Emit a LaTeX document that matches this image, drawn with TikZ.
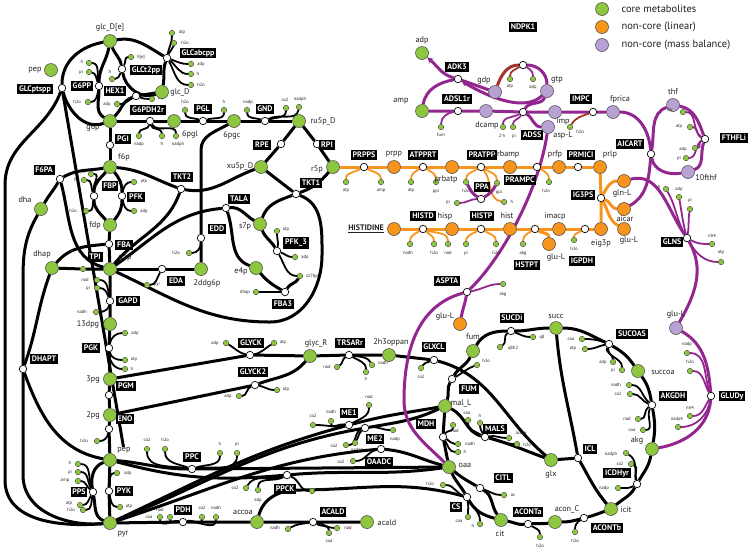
\documentclass[tikz,border=0pt]{standalone}
\usepackage{fontspec}
\setmainfont{PT Sans}
\usetikzlibrary{arrows.meta}
\pgfdeclarelayer{bg}
\pgfsetlayers{bg,main}
\definecolor{grn}{HTML}{8DC63F}
\definecolor{org}{HTML}{F7941D}
\definecolor{pur}{HTML}{93278F}
\definecolor{pfill}{HTML}{B8A2D4}
\definecolor{brn}{HTML}{A5332B}
\definecolor{txt}{HTML}{231F20}
\newcommand\Met[6]{\node[met] (#1) at (#2,#3) {}; \node[mt] (#1t) at (#4,#5) {#6};}
\newcommand\OMet[6]{\node[met,fill=org] (#1) at (#2,#3) {}; \node[mt] (#1t) at (#4,#5) {#6};}
\newcommand\PMet[6]{\node[met,fill=pfill] (#1) at (#2,#3) {}; \node[mt] (#1t) at (#4,#5) {#6};}
\newcommand\Rx[6]{\node[rx] (#1) at (#2,#3) {}; \node[lb] (#1b) at (#4,#5) {#6};}
\newcommand\Cf[8][]{\node[cf] (#2) at (#4,#5) {}; \node[ct] (#2t) at (#6,#7) {#8};
  \begin{pgfonlayer}{bg}\draw[cl,#1] (#3) to (#2);\end{pgfonlayer}}
\begin{document}
\begin{tikzpicture}[x=1pt,y=-1pt,
 met/.style={circle,fill=grn,draw=black!75,line width=0.5pt,minimum size=13pt,inner sep=0pt},
 cf/.style={circle,fill=grn,draw=black!75,line width=0.4pt,minimum size=5.5pt,inner sep=0pt},
 rx/.style={circle,fill=white,draw=black,line width=0.7pt,minimum size=7.5pt,inner sep=0pt},
 lb/.style={fill=black,text=white,font=\fontsize{8}{9}\selectfont\bfseries,inner sep=1.8pt},
 mt/.style={font=\fontsize{8.2}{9}\selectfont,inner sep=0pt,text=txt},
 ct/.style={font=\fontsize{4.6}{5}\selectfont,inner sep=0pt,text=txt},
 ml/.style={line width=3pt},
 cl/.style={line width=1.8pt},
 pl/.style={ml,draw=pur},
 ol/.style={ml,draw=org},
 cp/.style={draw=pur},
 co/.style={draw=org},
 cb/.style={draw=brn}]
\path[use as bounding box] (0,0) rectangle (749,550);
% legend
\node[met,minimum size=13pt] (lg1) at (602,9) {};
\node[anchor=west,font=\fontsize{10.5}{11}\selectfont,text=txt] (lg1t) at (618,9) {core metabolites};
\node[met,fill=org,minimum size=13pt] (lg2) at (602,27) {};
\node[anchor=west,font=\fontsize{10.5}{11}\selectfont,text=txt] (lg2t) at (618,27) {non-core (linear)};
\node[met,fill=pfill,minimum size=13pt] (lg3) at (602,45) {};
\node[anchor=west,font=\fontsize{10.5}{11}\selectfont,text=txt] (lg3t) at (618,45) {non-core (mass balance)};
% ---------------- top left
\Met{glce}{110}{41}{110}{28}{glc\_D[e]}
\Met{pept}{51}{70}{35}{70}{pep}
\Rx{glcpts}{62}{88}{35}{89}{GLCptspp}
\Rx{gsixpp}{99}{86}{82}{86}{G6PP}
\Cf[out=100,in=0]{gsixppa}{gsixpp}{89}{63}{82}{62}{h}
\Cf[out=110,in=-10]{gsixppb}{gsixpp}{89}{72}{81}{72}{pi}
\Cf[out=-100,in=0]{gsixppc}{gsixpp}{88}{102}{77}{102}{h2o}
\Rx{hexone}{136}{96}{115}{91}{HEX1}
\Cf[out=-150,in=0]{hexa}{hexone}{117}{104}{107}{104}{adp}
\Cf[out=-20,in=180]{hexb}{hexone}{152}{99}{161}{99}{atp}
\Rx{glct}{122}{69}{146}{70}{GLCt2pp}
\Cf[out=60,in=180]{glcta}{glct}{131}{57}{141}{57}{h[e]}
\Cf[out=-110,in=0]{glctb}{glct}{112}{79}{110}{72}{h}
\Rx{glcabc}{167}{58}{198}{53}{GLCabcpp}
\Cf[out=80,in=-90]{glcaa}{glcabc}{172}{33}{182}{33}{atp}
\Cf[out=70,in=-100]{glcab}{glcabc}{174}{43}{185}{43}{h2o}
\Cf[out=-20,in=180]{glcac}{glcabc}{191}{64}{201}{64}{adp}
\Cf[out=-40,in=180]{glcad}{glcabc}{191}{74}{198}{74}{h}
\Cf[out=-60,in=180]{glcae}{glcabc}{191}{85}{201}{85}{h2o}
\Met{glcd}{162}{92}{180}{92}{glc\_D}
\Met{gsixp}{110}{121}{93}{127}{g6p}
\Rx{gpdh}{150}{121}{148}{110}{G6PDH2r}
\Cf[out=-100,in=90]{gpdha}{gpdh}{139}{136}{139}{144}{nadp}
\Cf[out=-80,in=90]{gpdhb}{gpdh}{162}{136}{162}{144}{h}
\Cf[out=-60,in=90]{gpdhc}{gpdh}{176}{136}{178}{144}{nadph}
\Met{sixpgl}{174}{121}{190}{134}{6pgl}
\Rx{pgl}{203}{121}{203}{109}{PGL}
\Cf[out=160,in=-90]{pgla}{pgl}{185}{110}{185}{102}{h2o}
\Cf[out=20,in=-90]{pglb}{pgl}{224}{110}{224}{102}{h}
\Met{sixpgc}{234}{121}{232}{135}{6pgc}
\Rx{gnd}{265}{121}{265}{109}{GND}
\Cf[out=160,in=-90]{gnda}{gnd}{247}{110}{248}{102}{nadp}
\Cf[out=20,in=-90]{gndb}{gnd}{286}{108}{285}{100}{co2}
\Cf[out=30,in=-100]{gndc}{gnd}{299}{107}{300}{99}{nadph}
\Met{rufp}{299}{121}{323}{121}{ru5p\_D}
% ---------------- upper glycolysis / PPP
\Rx{pgi}{110}{145}{123}{139}{PGI}
\Met{fsixp}{110}{167}{124}{157}{f6p}
\Rx{fsixpa}{60}{179}{44}{170}{F6PA}
\Met{dha}{41}{209}{25}{200}{dha}
\Rx{fbp}{94}{196}{110}{186}{FBP}
\Cf[out=100,in=0]{fbpa}{fbp}{91}{174}{84}{172}{h}
\Cf[out=110,in=0]{fbpb}{fbp}{84}{180}{76}{179}{pi}
\Cf[out=-100,in=0]{fbpc}{fbp}{86}{211}{73}{211}{h2o}
\Rx{pfk}{122}{196}{136}{197}{PFK}
\Cf[out=80,in=180]{pfka}{pfk}{134}{182}{144}{182}{atp}
\Cf[out=-80,in=180]{pfkb}{pfk}{134}{211}{144}{211}{adp}
\Met{fdp}{110}{225}{95}{225}{fdp}
\Rx{fba}{109}{244}{124}{245}{FBA}
\Met{gthreep}{110}{269}{125}{257}{g3p}
\Met{dhap}{52}{268}{42}{254}{dhap}
\node[cf] (tpi) at (83,269) {};
\node[lb] (tpib) at (95,257) {TPI};
\Rx{tkttwo}{181}{189}{182}{177}{TKT2}
\Rx{tala}{226}{208}{239}{199}{TALA}
\Met{xufp}{261}{167}{240}{166}{xu5p\_D}
\Met{ssevp}{260}{224}{245}{226}{s7p}
\Rx{edd}{201}{238}{217}{229}{EDD}
\Cf[out=-90,in=0]{edda}{edd}{189}{253}{176}{253}{h2o}
\Rx{eda}{162}{269}{176}{281}{EDA}
\Cf[out=-120,in=0]{edaa}{eda}{147}{285}{157}{285}{pyr}
\Met{twoddg}{201}{269}{207}{283}{2ddg6p}
\Met{efourp}{256}{268}{241}{271}{e4p}
\Rx{pfkthree}{277}{251}{296}{243}{PFK\_3}
\Cf[out=80,in=-90]{pfkthreea}{pfkthree}{277}{231}{286}{230}{atp}
\Cf[out=-20,in=180]{pfkthreeb}{pfkthree}{295}{257}{305}{257}{adp}
\Cf[out=-60,in=180]{pfkthreec}{pfkthree}{300}{276}{312}{276}{s17bp}
\Rx{fbathree}{285}{292}{283}{304}{FBA3}
\Cf[out=180,in=0]{fbathreea}{fbathree}{256}{292}{245}{292}{dhap}
\Rx{rpe}{281}{144}{262}{145}{RPE}
\Rx{rpi}{317}{144}{327}{145}{RPI}
\Met{rfivep}{333}{167}{317}{169}{r5p}
\Rx{tktone}{296}{194}{311}{183}{TKT1}
% ---------------- lower glycolysis
\Rx{gapd}{110}{301}{128}{301}{GAPD}
\Cf[out=100,in=0]{gapda}{gapd}{97}{280}{85}{280}{nad}
\Cf[out=110,in=0]{gapdb}{gapd}{97}{288}{88}{288}{pi}
\Cf[out=-100,in=0]{gapdc}{gapd}{96}{312}{82}{312}{nadh}
\Met{tdpg}{110}{324}{88}{324}{13dpg}
\Rx{pgk}{109}{348}{91}{348}{PGK}
\Cf[out=80,in=180]{pgka}{pgk}{125}{333}{135}{333}{adp}
\Cf[out=-80,in=180]{pgkb}{pgk}{125}{360}{134}{360}{atp}
\Cf[out=-90,in=180]{pgkc}{pgk}{125}{369}{132}{369}{h}
\Met{threepg}{110}{379}{93}{379}{3pg}
\Rx{pgm}{109}{395}{126}{386}{PGM}
\Met{twopg}{110}{415}{93}{415}{2pg}
\Rx{eno}{109}{429}{125}{419}{ENO}
\Cf[out=-100,in=0]{enoa}{eno}{97}{441}{84}{441}{h2o}
\Met{pep}{110}{460}{124}{450}{pep}
\Rx{pyk}{109}{491}{124}{491}{PYK}
\Cf[out=80,in=180]{pyka}{pyk}{117}{473}{128}{473}{adp}
\Cf[out=-80,in=180]{pykb}{pyk}{120}{507}{129}{507}{atp}
\Met{pyr}{110}{523}{123}{534}{pyr}
\Rx{pps}{93}{492}{79}{492}{PPS}
\Cf[out=110,in=0]{ppsa}{pps}{78}{464}{70}{463}{h}
\Cf[out=120,in=0]{ppsb}{pps}{78}{472}{70}{472}{pi}
\Cf[out=140,in=0]{ppsc}{pps}{78}{481}{65}{481}{amp}
\Cf[out=-120,in=0]{ppsd}{pps}{80}{505}{69}{504}{atp}
\Cf[out=-100,in=0]{ppse}{pps}{83}{510}{71}{510}{h2o}
\Rx{dhapt}{23}{369}{44}{359}{DHAPT}
\Rx{ppc}{192}{469}{192}{457}{PPC}
\Cf[out=170,in=-90]{ppca}{ppc}{147}{449}{147}{440}{co2}
\Cf[out=160,in=-90]{ppcb}{ppc}{165}{449}{165}{440}{h2o}
\Cf[out=20,in=-90]{ppcc}{ppc}{220}{453}{220}{444}{h}
\Cf[out=10,in=-90]{ppcd}{ppc}{237}{453}{237}{444}{pi}
\Rx{pdh}{183}{522}{183}{510}{PDH}
\Cf[out=175,in=-90]{pdha}{pdh}{160}{517}{149}{517}{coa}
\Cf[out=165,in=-90]{pdhb}{pdh}{170}{517}{160}{510}{nad}
\Cf[out=15,in=-90]{pdhc}{pdh}{202}{517}{202}{508}{co2}
\Cf[out=5,in=-90]{pdhd}{pdh}{216}{517}{216}{508}{nadh}
\Met{accoa}{257}{522}{243}{512}{accoa}
\Rx{acaldr}{313}{522}{333}{512}{ACALD}
\Cf[out=190,in=30]{acalda}{acaldr}{288}{529}{275}{528}{nadh}
\Cf[out=-30,in=90]{acaldb}{acaldr}{329}{533}{329}{541}{coa}
\Cf[out=-10,in=180]{acaldc}{acaldr}{337}{528}{348}{528}{nad}
\Met{acald}{367}{522}{387}{523}{acald}
\Rx{ppck}{287}{475}{285}{489}{PPCK}
\Cf[out=200,in=60]{ppcka}{ppck}{246}{488}{235}{488}{co2}
\Cf[out=210,in=90]{ppckb}{ppck}{258}{490}{258}{500}{adp}
\Cf[out=-20,in=180]{ppckc}{ppck}{312}{491}{323}{491}{atp}
\Rx{oaadc}{381}{449}{379}{462}{OAADC}
\Cf[out=190,in=0]{oaadca}{oaadc}{353}{461}{341}{462}{co2}
\Rx{meone}{349}{425}{349}{413}{ME1}
\Cf[out=190,in=0]{meonea}{meone}{313}{425}{313}{416}{co2}
\Cf[out=170,in=-90]{meoneb}{meone}{331}{421}{331}{412}{nadh}
\Cf[out=30,in=-90]{meonec}{meone}{369}{405}{369}{397}{nad}
\Rx{metwo}{365}{428}{375}{439}{ME2}
\Cf[out=-160,in=0]{metwoa}{metwo}{346}{445}{334}{446}{co2}
\Cf[out=-140,in=60]{metwob}{metwo}{355}{443}{357}{450}{nadph}
\Cf[out=10,in=180]{metwoc}{metwo}{393}{430}{395}{439}{nadp}
% ---------------- glycerate branch
\Rx{glyck}{250}{355}{251}{343}{GLYCK}
\Cf[out=170,in=-30]{glycka}{glyck}{226}{343}{215}{343}{adp}
\Cf[out=10,in=210]{glyckb}{glyck}{274}{343}{283}{343}{atp}
\Rx{glycktwo}{255}{385}{253}{372}{GLYCK2}
\Cf[out=200,in=0]{glycktwoa}{glycktwo}{239}{396}{228}{396}{adp}
\Cf[out=-10,in=180]{glycktwob}{glycktwo}{277}{390}{286}{390}{atp}
\Met{glycr}{310}{356}{316}{343}{glyc\_R}
\Rx{trsar}{349}{355}{350}{343}{TRSARr}
\Cf[out=-150,in=30]{trsara}{trsar}{337}{367}{327}{367}{nad}
\Cf[out=-30,in=90]{trsarb}{trsar}{366}{372}{366}{379}{h}
\Cf[out=-10,in=120]{trsarc}{trsar}{372}{365}{383}{363}{nadh}
\Met{twohthree}{389}{355}{391}{342}{2h3oppan}
\Rx{glxcl}{434}{360}{434}{347}{GLXCL}
\Cf[out=200,in=60]{glxcla}{glxcl}{421}{368}{421}{377}{co2}
% ---------------- TCA
\Rx{aspta}{467}{292}{447}{281}{ASPTA}
\OMet{glulc}{460}{324}{445}{316}{glu-L}
\Cf[cp,out=10,in=180]{asptaa}{aspta}{503}{284}{503}{294}{akg}
\Met{fum}{473}{351}{473}{337}{fum}
\Rx{fumr}{452}{379}{469}{389}{FUM}
\Cf[out=30,in=200]{fumra}{fumr}{477}{365}{486}{361}{h2o}
\Met{mal}{445}{406}{461}{403}{mal\_L}
\Rx{mdh}{443}{437}{426}{424}{MDH}
\Cf[out=60,in=-90]{mdha}{mdh}{453}{425}{455}{431}{nad}
\Cf[out=-30,in=180]{mdhb}{mdh}{458}{444}{470}{444}{nadh}
\Cf[out=-60,in=180]{mdhc}{mdh}{458}{452}{465}{452}{h}
\Met{oaa}{449}{467}{465}{465}{oaa}
\Rx{mals}{485}{437}{495}{429}{MALS}
\Cf[out=150,in=-90]{malsa}{mals}{468}{420}{467}{413}{coa}
\Cf[out=120,in=-90]{malsb}{mals}{480}{423}{480}{416}{h}
\Cf[out=10,in=180]{malsc}{mals}{509}{438}{521}{433}{accoa}
\Cf[out=-10,in=180]{malsd}{mals}{517}{444}{527}{445}{h2o}
\Rx{citl}{480}{488}{503}{478}{CITL}
\Cf[out=-20,in=180]{citla}{citl}{504}{495}{513}{495}{ac}
\Rx{cs}{467}{497}{456}{507}{CS}
\Cf[out=160,in=0]{csa}{cs}{443}{485}{430}{484}{h2o}
\Cf[out=-80,in=90]{csb}{cs}{468}{517}{459}{521}{coa}
\Cf[out=-60,in=90]{csc}{cs}{480}{524}{473}{526}{h}
\Met{cit}{501}{520}{500}{534}{cit}
\Rx{aconta}{528}{524}{528}{512}{ACONTa}
\Cf[out=-30,in=90]{acontaa}{aconta}{540}{537}{540}{546}{h2o}
\Met{aconc}{555}{522}{567}{509}{acon\_C}
\Rx{acontb}{584}{518}{607}{528}{ACONTb}
\Cf[out=-150,in=90]{acontba}{acontb}{575}{532}{575}{541}{h2o}
\Met{icit}{611}{509}{626}{510}{icit}
\Rx{icdh}{637}{484}{617}{473}{ICDHyr}
\Cf[out=100,in=-30]{icdha}{icdh}{626}{453}{611}{454}{nadph}
\Cf[out=110,in=-20]{icdhb}{icdh}{631}{464}{620}{464}{co2}
\Cf[out=-150,in=0]{icdhc}{icdh}{618}{488}{604}{488}{nadp}
\Met{akg}{652}{449}{637}{440}{akg}
\Rx{icl}{578}{458}{590}{449}{ICL}
\Met{glx}{551}{460}{551}{474}{glx}
\Met{succ}{556}{328}{556}{316}{succ}
\Rx{sucdi}{511}{331}{512}{318}{SUCDi}
\Cf[out=-20,in=180]{sucdia}{sucdi}{533}{337}{542}{337}{q8}
\Cf[out=-150,in=30]{sucdib}{sucdi}{500}{347}{513}{348}{q8h2}
\Rx{sucoas}{609}{344}{632}{334}{SUCOAS}
\Cf[out=160,in=0]{sucoasa}{sucoas}{582}{339}{571}{339}{coa}
\Cf[out=190,in=0]{sucoasb}{sucoas}{585}{349}{573}{349}{atp}
\Cf[out=-120,in=90]{sucoasc}{sucoas}{613}{362}{603}{362}{adp}
\Cf[out=-100,in=90]{sucoasd}{sucoas}{622}{370}{613}{370}{pi}
\Met{succoa}{638}{371}{663}{372}{succoa}
\Rx{akgdh}{652}{405}{673}{396}{AKGDH}
\Cf[out=140,in=0]{akgdha}{akgdh}{629}{385}{616}{385}{nadh}
\Cf[out=160,in=0]{akgdhb}{akgdh}{630}{394}{618}{394}{co2}
\Cf[out=-150,in=0]{akgdhc}{akgdh}{638}{419}{627}{419}{nad}
\Cf[out=-120,in=0]{akgdhd}{akgdh}{643}{430}{632}{430}{coa}
% ---------------- purple right
\PMet{glulp}{676}{328}{676}{314}{glu-L}
\Rx{gludy}{711}{396}{732}{396}{GLUDy}
\Cf[cp,out=110,in=0]{gludya}{gludy}{687}{353}{687}{344}{nadp}
\Cf[cp,out=120,in=0]{gludyb}{gludy}{690}{371}{690}{362}{h2o}
\Cf[cp,out=-120,in=0]{gludyc}{gludy}{690}{416}{690}{408}{nh4}
\Cf[cp,out=-100,in=0]{gludyd}{gludy}{678}{427}{677}{419}{nadph}
\Rx{glns}{687}{238}{672}{242}{GLNS}
\Cf[cp,out=120,in=-60]{glnsa}{glns}{666}{189}{659}{187}{h}
\Cf[cp,out=105,in=-80]{glnsb}{glns}{679}{197}{679}{189}{adp}
\Cf[cp,out=80,in=-100]{glnsc}{glns}{690}{209}{690}{200}{pi}
\Cf[cp,out=-30,in=180]{glnsd}{glns}{712}{244}{712}{236}{nh4}
\Cf[cp,out=-60,in=180]{glnse}{glns}{721}{262}{721}{253}{atp}
% ---------------- histidine (orange)
\OMet{glnl}{624}{181}{622}{193}{gln-L}
\OMet{aicar}{624}{209}{625}{219}{aicar}
\OMet{glulo}{624}{229}{629}{240}{glu-L}
\Rx{igthree}{601}{198}{583}{195}{IG3PS}
\OMet{eig}{601}{229}{601}{243}{eig3p}
\Rx{igpdh}{585}{229}{582}{261}{IGPDH}
\Cf[co,out=-150,in=90]{igpdha}{igpdh}{574}{240}{574}{249}{h2o}
\OMet{imacp}{559}{229}{555}{216}{imacp}
\Rx{hstpt}{535}{229}{527}{265}{HSTPT}
\Cf[co,out=-150,in=90]{hstpta}{hstpt}{523}{244}{523}{253}{akg}
\OMet{glulh}{549}{244}{556}{257}{glu-L}
\OMet{hist}{510}{229}{507}{216}{hist}
\Rx{histp}{481}{229}{482}{216}{HISTP}
\Cf[co,out=-150,in=90]{histpa}{histp}{466}{244}{466}{253}{pi}
\Cf[co,out=-30,in=90]{histpb}{histp}{496}{244}{496}{253}{h2o}
\OMet{hisp}{452}{229}{445}{216}{hisp}
\Rx{histd}{423}{229}{423}{216}{HISTD}
\Cf[co,out=-150,in=90]{histda}{histd}{410}{244}{408}{253}{nadh}
\Cf[co,out=-40,in=90]{histdb}{histd}{434}{244}{434}{253}{h2o}
\Cf[co,out=-20,in=90]{histdc}{histd}{448}{244}{448}{253}{nad}
\node[met,fill=org] (his) at (394,229) {};
\node[font=\fontsize{8}{9}\selectfont\bfseries,inner sep=0pt,text=txt] (histxt) at (366,229) {\underline{HISTIDINE}};
\Rx{prpps}{364}{167}{364}{155}{PRPPS}
\Cf[co,out=-150,in=90]{prppsa}{prpps}{346}{182}{346}{191}{atp}
\Cf[co,out=-30,in=90]{prppsb}{prpps}{381}{182}{381}{191}{amp}
\OMet{prpp}{394}{167}{394}{154}{prpp}
\Rx{atpprt}{423}{167}{423}{155}{ATPPRT}
\Cf[co,out=-150,in=90]{atpprta}{atpprt}{411}{182}{411}{191}{atp}
\Cf[co,out=-30,in=90]{atpprtb}{atpprt}{436}{182}{436}{191}{ppi}
\OMet{prbatp}{452}{167}{446}{179}{prbatp}
\Rx{pratpp}{481}{167}{482}{155}{PRATPP}
\Cf[co,out=-150,in=90]{pratppa}{pratpp}{466}{182}{466}{191}{h2o}
\Cf[co,out=-30,in=90]{pratppb}{pratpp}{497}{183}{499}{192}{ppi}
\Cf[co,out=-50,in=170]{pratppc}{pratpp}{504}{202}{512}{202}{h}
\Rx{ppa}{481}{199}{482}{187}{PPA}
\Cf[cp,out=180,in=0]{ppaa}{ppa}{457}{203}{448}{202}{pi}
\OMet{prbamp}{510}{167}{506}{154}{prbamp}
\Rx{prampc}{537}{167}{520}{180}{PRAMPC}
\Cf[co,out=-30,in=90]{prampca}{prampc}{549}{182}{546}{191}{h2o}
\OMet{prfp}{559}{167}{555}{154}{prfp}
\Rx{prmici}{578}{167}{581}{155}{PRMICI}
\OMet{prlp}{600}{167}{610}{154}{prlp}
% ---------------- purple top
\Met{adpp}{422}{53}{422}{40}{adp}
\Rx{adkthree}{458}{79}{457}{67}{ADK3}
\PMet{gdp}{495}{92}{484}{80}{gdp}
\Met{amp}{422}{111}{401}{101}{amp}
\Rx{adsl}{458}{111}{457}{99}{ADSL1r}
\PMet{dcamp}{486}{111}{487}{125}{dcamp}
\Cf[cp,out=-170,in=90]{adsla}{adsl}{441}{127}{441}{135}{fum}
\Rx{ndpk}{523}{65}{523}{27}{NDPK1}
\Cf[cb,out=-150,in=90]{ndpka}{ndpk}{510}{79}{510}{87}{atp}
\Cf[cp,out=-30,in=90]{ndpkb}{ndpk}{533}{79}{533}{87}{adp}
\PMet{gtp}{547}{91}{557}{80}{gtp}
\Rx{adss}{523}{112}{532}{135}{ADSS}
\Cf[cp,out=-150,in=90]{adssa}{adss}{503}{127}{502}{136}{2 h}
\Cf[cp,out=-120,in=90]{adssb}{adss}{513}{127}{514}{136}{pi}
\PMet{imp}{555}{112}{563}{121}{imp}
\PMet{aspl}{548}{127}{563}{135}{asp-L}
\Rx{impc}{593}{112}{581}{99}{IMPC}
\Cf[cb,out=-160,in=60]{impca}{impc}{570}{127}{580}{132}{h2o}
\PMet{fprica}{613}{112}{620}{99}{fprica}
\Rx{aicart}{651}{154}{630}{144}{AICART}
\PMet{thf}{673}{105}{673}{92}{thf}
\Rx{fthfl}{705}{139}{734}{138}{FTHFLi}
\Cf[cp,out=150,in=0]{fthfla}{fthfl}{683}{112}{670}{110}{for}
\Cf[cp,out=160,in=0]{fthflb}{fthfl}{690}{127}{679}{127}{atp}
\Cf[cp,out=-160,in=0]{fthflc}{fthfl}{695}{148}{683}{149}{adp}
\Cf[cp,out=-150,in=0]{fthfld}{fthfl}{686}{158}{679}{158}{pi}
\PMet{tenfthf}{688}{172}{706}{178}{10fthf}
% coordinates
\coordinate (oc1) at (5,185);
\coordinate (oc2) at (5,480);
\coordinate (dc1) at (23,280);
\coordinate (dc2) at (23,475);
\coordinate (eddc) at (201,150);
\coordinate (lp1) at (322,255);
\coordinate (lp2) at (270,322);
\coordinate (acc1) at (298,490);
\coordinate (asp1) at (404,400);
% ================= lines
\begin{pgfonlayer}{bg}
\draw[ml] (glce) to[out=190,in=90] (glcpts);
\draw[ml] (pept) -- (glcpts);
\draw[ml] (glcpts) to[out=-110,in=90] (oc1) -- (oc2) to[out=-90,in=185] (pyr);
\draw[ml] (glcpts) to[out=-75,in=200] (gsixp);
\draw[ml] (glce) to[out=-100,in=90] (gsixpp) to[out=-90,in=150] (gsixp);
\draw[ml] (glce) to[out=-70,in=100] (glct) to[out=-80,in=200] (glcd);
\draw[ml] (glce) to[out=10,in=150] (glcabc) to[out=-110,in=80] (glcd);
\draw[ml] (glcd) -- (hexone) to[out=200,in=45] (gsixp);
\draw[ml] (gsixp) -- (gpdh) -- (sixpgl) -- (pgl) -- (sixpgc) -- (gnd) -- (rufp);
\draw[ml] (rufp) -- (rpe) -- (xufp);
\draw[ml] (rufp) -- (rpi) -- (rfivep);
\draw[ml] (sixpgc) to[out=-150,in=90] (eddc) -- (edd) -- (twoddg);
\draw[ml] (gthreep) -- (eda) -- (twoddg);
\draw[ml] (gsixp) -- (pgi) -- (fsixp);
\draw[ml] (fsixp) to[out=-130,in=90] (fbp) to[out=-90,in=130] (fdp);
\draw[ml] (fsixp) to[out=-50,in=90] (pfk) to[out=-90,in=50] (fdp);
\draw[ml] (fdp) -- (fba) -- (gthreep);
\draw[ml] (fba) to[out=185,in=50] (dhap);
\draw[ml] (dhap) -- (tpi) -- (gthreep);
\draw[ml] (fsixp) to[out=190,in=30] (fsixpa);
\draw[ml] (fsixpa) to[out=-120,in=60] (dha);
\draw[ml] (fsixpa) to[out=-75,in=165] (gthreep);
\draw[ml] (fsixp) to[out=-5,in=160] (tkttwo) to[out=-10,in=200] (xufp);
\draw[ml] (gthreep) to[out=50,in=-110] (tkttwo);
\draw[ml] (gthreep) to[out=35,in=185] (tala);
\draw[ml] (tala) to[out=5,in=150] (ssevp);
\draw[ml] (tala) to[out=-70,in=160] (efourp);
\draw[ml] (xufp) -- (tktone);
\draw[ml] (rfivep) to[out=-130,in=20] (tktone);
\draw[ml] (tktone) to[out=200,in=70] (ssevp);
\draw[ml] (tktone) to[out=-20,in=90] (lp1) to[out=-90,in=0] (lp2) to[out=180,in=-25] (gthreep);
\draw[ml] (ssevp) to[out=-70,in=120] (pfkthree);
\draw[ml] (pfkthreec) to[out=-120,in=60] (fbathree);
\draw[ml] (efourp) to[out=-50,in=150] (fbathree);
\draw[ml] (gthreep) -- (gapd) -- (tdpg) -- (pgk) -- (threepg) -- (pgm) -- (twopg) -- (eno) -- (pep) -- (pyk) -- (pyr);
\draw[ml] (pyr) to[out=160,in=-80] (pps) to[out=100,in=-160] (pep);
\draw[ml] (dha) to[out=-120,in=90] (dc1) -- (dhapt);
\draw[ml] (dhap) to[out=-110,in=70] (dhapt);
\draw[ml] (dhapt) -- (dc2) to[out=-90,in=185] (pyr);
\draw[ml] (dhapt) to[out=-70,in=170] (pep);
\draw[ml] (threepg) -- (glyck) -- (glycr);
\draw[ml] (twopg) -- (glycktwo) to[out=20,in=-130] (glycr);
\draw[ml] (glycr) -- (trsar) -- (twohthree) -- (glxcl) to[out=-15,in=140] (glx);
\draw[ml] (pep) to[out=-5,in=180] (ppc) -- (oaa);
\draw[ml] (oaa) to[out=188,in=5] (ppck) to[out=185,in=-15] (pep);
\draw[ml] (mal) to[out=190,in=15] (meone) to[out=195,in=25] (pyr);
\draw[ml] (mal) to[out=205,in=10] (metwo) to[out=190,in=22] (pyr);
\draw[ml] (oaa) to[out=165,in=-5] (oaadc) to[out=185,in=18] (pyr);
\draw[ml] (pyr) -- (pdh) -- (accoa) -- (acaldr) -- (acald);
\draw[ml] (accoa) to[out=75,in=180] (acc1) to[out=0,in=165] (cs);
\draw[ml] (succ) to[out=180,in=0] (sucdi) to[out=180,in=60] (fum);
\draw[ml] (fum) to[out=-115,in=60] (fumr) to[out=-120,in=70] (mal);
\draw[ml] (mal) -- (mdh) -- (oaa);
\draw[ml] (mal) to[out=-25,in=165] (mals) to[out=-15,in=160] (glx);
\draw[ml] (oaa) to[out=-40,in=150] (citl) to[out=-30,in=125] (cit);
\draw[ml] (oaa) to[out=-65,in=120] (cs) to[out=-60,in=165] (cit);
\draw[ml] (cit) to[out=-10,in=185] (aconta) to[out=5,in=190] (aconc) to[out=0,in=195] (acontb) to[out=15,in=200] (icit);
\draw[ml] (icit) to[out=40,in=-120] (icdh) to[out=60,in=-100] (akg);
\draw[ml] (icit) to[out=130,in=-60] (icl);
\draw[ml] (icl) -- (glx);
\draw[ml] (succ) to[out=-85,in=100] (icl);
\draw[ml] (succ) to[out=0,in=155] (sucoas) to[out=-30,in=125] (succoa) to[out=-55,in=100] (akgdh) to[out=-80,in=80] (akg);
% purple
\draw[pl] (aspta) to[out=-100,in=80] (glulc);
\draw[pl] (aspta) to[out=195,in=90] (asp1) to[out=-90,in=135] (oaa);
\draw[pl] (aspta) .. controls (505,255) and (540,185) .. (aspl);
\draw[pl] (amp) -- (adsl) -- (dcamp) -- (adss) -- (imp) -- (impc) -- (fprica);
\draw[pl] (amp) to[out=80,in=190] (adkthree);
\draw[pl,-{Stealth[length=6pt,width=6pt]}] (adkthree) to[out=165,in=-40] (adpp);
\draw[pl] (adkthree) -- (gdp);
\draw[pl,-{Stealth[length=6pt,width=6pt]}] (gtp) .. controls (525,112) and (490,98) .. (adkthree);
\draw[ml,draw=brn] (gdp) to[out=70,in=180] (ndpk);
\draw[pl] (ndpk) to[out=0,in=90] (gtp);
\draw[pl] (gtp) to[out=-110,in=60] (adss);
\draw[pl] (aspl) to[out=180,in=-30] (adss);
\draw[pl] (fprica) to[out=0,in=95] (aicart);
\draw[pl] (thf) to[out=200,in=80] (aicart);
\draw[pl] (thf) to[out=-10,in=110] (fthfl);
\draw[pl] (fthfl) to[out=-110,in=20] (tenfthf);
\draw[pl] (aicart) to[out=-80,in=190] (tenfthf);
\draw[pl] (aicart) to[out=-95,in=30] (aicar);
\draw[pl] (glnl) to[out=15,in=125] (glns);
\draw[pl] (glns) to[out=-60,in=60] (glulp);
\draw[pl] (glulp) to[out=-30,in=95] (gludy) to[out=-95,in=10] (akg);
\draw[pl] (ppa) to[out=150,in=-60] (pratppa);
\draw[pl] (ppa) to[out=30,in=-120] (pratppb);
% orange
\draw[ol] (rfivep) -- (prpps) -- (prpp) -- (atpprt) -- (prbatp) -- (pratpp) -- (prbamp) -- (prampc) -- (prfp) -- (prmici) -- (prlp);
\draw[ol] (prlp) -- (igthree) -- (eig);
\draw[ol] (igthree) to[out=60,in=180] (glnl);
\draw[ol] (igthree) to[out=-20,in=180] (aicar);
\draw[ol] (igthree) to[out=-60,in=150] (glulo);
\draw[ol] (eig) -- (igpdh) -- (imacp) -- (hstpt) -- (hist) -- (histp) -- (hisp) -- (histd) -- (his);
\draw[ol] (hstpt) to[out=-30,in=90] (glulh);
\end{pgfonlayer}
\end{tikzpicture}
\end{document}
